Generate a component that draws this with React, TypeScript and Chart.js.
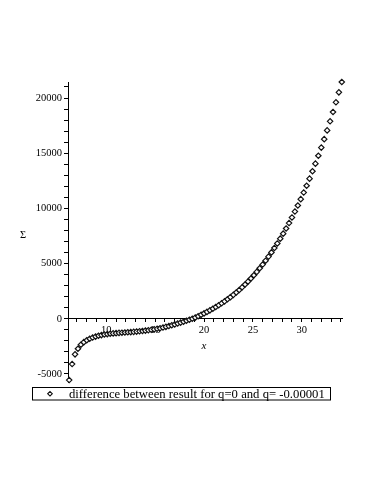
import React, { useEffect, useRef } from "react";
import { Chart, registerables } from "chart.js";

Chart.register(...registerables);

const seriesLabel = "difference between result for q=0 and q= -0.00001";
const xTitle = "x";
const yTitle = "Σ";

const xValues = [
  6.2, 6.5, 6.8, 7.1, 7.4, 7.7, 8.0, 8.3, 8.6, 8.9,
  9.2, 9.5, 9.8, 10.1, 10.4, 10.7, 11.0, 11.3, 11.6, 11.9,
  12.2, 12.5, 12.8, 13.1, 13.4, 13.7, 14.0, 14.3, 14.6, 14.9,
  15.2, 15.5, 15.8, 16.1, 16.4, 16.7, 17.0, 17.3, 17.6, 17.9,
  18.2, 18.5, 18.8, 19.1, 19.4, 19.7, 20.0, 20.3, 20.6, 20.9,
  21.2, 21.5, 21.8, 22.1, 22.4, 22.7, 23.0, 23.3, 23.6, 23.9,
  24.2, 24.5, 24.8, 25.1, 25.4, 25.7, 26.0, 26.3, 26.6, 26.9,
  27.2, 27.5, 27.8, 28.1, 28.4, 28.7, 29.0, 29.3, 29.6, 29.9,
  30.2, 30.5, 30.8, 31.1, 31.4, 31.7, 32.0, 32.3, 32.6, 32.9,
  33.2, 33.5, 33.8, 34.1,
];

const sigmaValues = [
  -5550, -4100, -3220, -2710, -2350, -2115, -1940, -1808, -1700, -1612,
  -1538, -1476, -1426, -1384, -1350, -1322, -1298, -1277, -1258, -1240,
  -1222, -1203, -1183, -1160, -1134, -1104, -1070, -1036, -998, -955,
  -907, -853, -793, -728, -659, -586, -509, -429, -346, -261,
  -174, -86, 8, 110, 232, 358, 488, 625, 766, 914,
  1070, 1232, 1402, 1580, 1767, 1963, 2169, 2385, 2612, 2851,
  3103, 3370, 3650, 3945, 4252, 4575, 4912, 5265, 5633, 6014,
  6411, 6826, 7259, 7711, 8182, 8672, 9182, 9714, 10266, 10840,
  11436, 12055, 12697, 13364, 14054, 14769, 15509, 16275, 17068, 17888,
  18735, 19611, 20513, 21446,
];

const xLabelTicks = [10, 15, 20, 25, 30];
const yLabelTicks = [-5000, 0, 5000, 10000, 15000, 20000];
const xMinorStep = 1;
const yMinorStep = 1000;

const SERIF = "'Liberation Serif', 'Times New Roman', Times, serif";

function drawDiamond(ctx: CanvasRenderingContext2D, x: number, y: number, r: number) {
  ctx.beginPath();
  ctx.moveTo(x - r, y);
  ctx.lineTo(x, y - r);
  ctx.lineTo(x + r, y);
  ctx.lineTo(x, y + r);
  ctx.closePath();
  ctx.fillStyle = "#fff";
  ctx.fill();
  ctx.strokeStyle = "#111";
  ctx.lineWidth = 1.1;
  ctx.stroke();
}

const textPlugin = {
  id: "mapleText",
  afterDraw(chart: any) {
    const { ctx, chartArea, scales } = chart;
    ctx.save();
    ctx.fillStyle = "#000";
    ctx.textAlign = "center";
    ctx.textBaseline = "middle";
    ctx.font = `10.5px ${SERIF}`;
    ctx.fillText(yTitle, chartArea.left - 45, (chartArea.top + chartArea.bottom) / 2 + 3);
    ctx.font = `italic 11px ${SERIF}`;
    ctx.fillText(xTitle, (chartArea.left + chartArea.right) / 2 - 1, scales.y.getPixelForValue(0) + 27);
    const bx = chartArea.left - 35.5;
    const by = chartArea.bottom + 5.5;
    const bw = 298;
    const bh = 12.5;
    ctx.strokeStyle = "#000";
    ctx.lineWidth = 1;
    ctx.strokeRect(bx, by, bw, bh);
    drawDiamond(ctx, bx + 17.5, by + bh / 2, 2.3);
    ctx.fillStyle = "#000";
    ctx.textAlign = "left";
    ctx.font = `12.7px ${SERIF}`;
    ctx.fillText(seriesLabel, bx + 36.5, by + bh / 2 + 0.5);
    ctx.restore();
  },
};

// Replace generated ticks by every multiple of `step` inside the axis range.
function stepTicks(s: any, step: number) {
  const out: { value: number }[] = [];
  const first = Math.ceil(s.min / step);
  const last = Math.floor(s.max / step);
  for (let k = first; k <= last; k++) out.push({ value: k * step });
  s.ticks = out;
}

const near = (list: number[], v: number) => list.some((t) => Math.abs(t - v) < 1e-6);

export default function App() {
  const canvasRef = useRef<HTMLCanvasElement | null>(null);

  useEffect(() => {
    if (!canvasRef.current) return;
    const points = xValues.map((x, i) => ({ x, y: sigmaValues[i] }));
    const tickFont = { family: SERIF, size: 10.5 };
    const chart = new Chart(canvasRef.current, {
      type: "scatter",
      data: {
        datasets: [
          {
            label: seriesLabel,
            data: points,
            showLine: false,
            pointStyle: "rectRot",
            pointRadius: 2.7,
            pointBorderWidth: 1.2,
            borderColor: "#111",
            backgroundColor: "#fff",
            clip: false as any,
          },
        ],
      },
      options: {
        animation: false,
        responsive: false,
        events: [],
        layout: { padding: { left: 0, right: 24, top: 74, bottom: 26 } },
        plugins: {
          legend: { display: false },
          tooltip: { enabled: false },
          title: { display: false },
        },
        scales: {
          x: {
            type: "linear",
            min: 6.08,
            max: 34.12,
            position: { y: 0 } as any,
            afterFit: (s: any) => {
              s.height = 0;
            },
            afterBuildTicks: (s: any) => stepTicks(s, xMinorStep),
            ticks: {
              autoSkip: false,
              maxRotation: 0,
              padding: 2,
              color: "#000",
              font: tickFont,
              callback: (v: any) => (near(xLabelTicks, v) ? String(Math.round(v)) : ""),
            },
            grid: { drawOnChartArea: false, drawTicks: true, tickLength: 3, tickColor: "#000" },
            border: { display: true, color: "#000", width: 1 },
          },
          y: {
            type: "linear",
            min: -5725,
            max: 21450,
            position: "left",
            afterFit: (s: any) => {
              s.width = 60;
            },
            afterBuildTicks: (s: any) => stepTicks(s, yMinorStep),
            ticks: {
              autoSkip: false,
              padding: 2,
              color: "#000",
              font: tickFont,
              callback: (v: any) => (near(yLabelTicks, v) ? String(Math.round(v)) : ""),
            },
            grid: { drawOnChartArea: false, drawTicks: true, tickLength: 4, tickColor: "#000" },
            border: { display: true, color: "#000", width: 1 },
          },
        },
      },
      plugins: [textPlugin],
    });
    return () => chart.destroy();
  }, []);

  return (
    <div style={{ width: 358, height: 400 }}>
      <canvas ref={canvasRef} width={358} height={400} style={{ display: "block" }} />
    </div>
  );
}
